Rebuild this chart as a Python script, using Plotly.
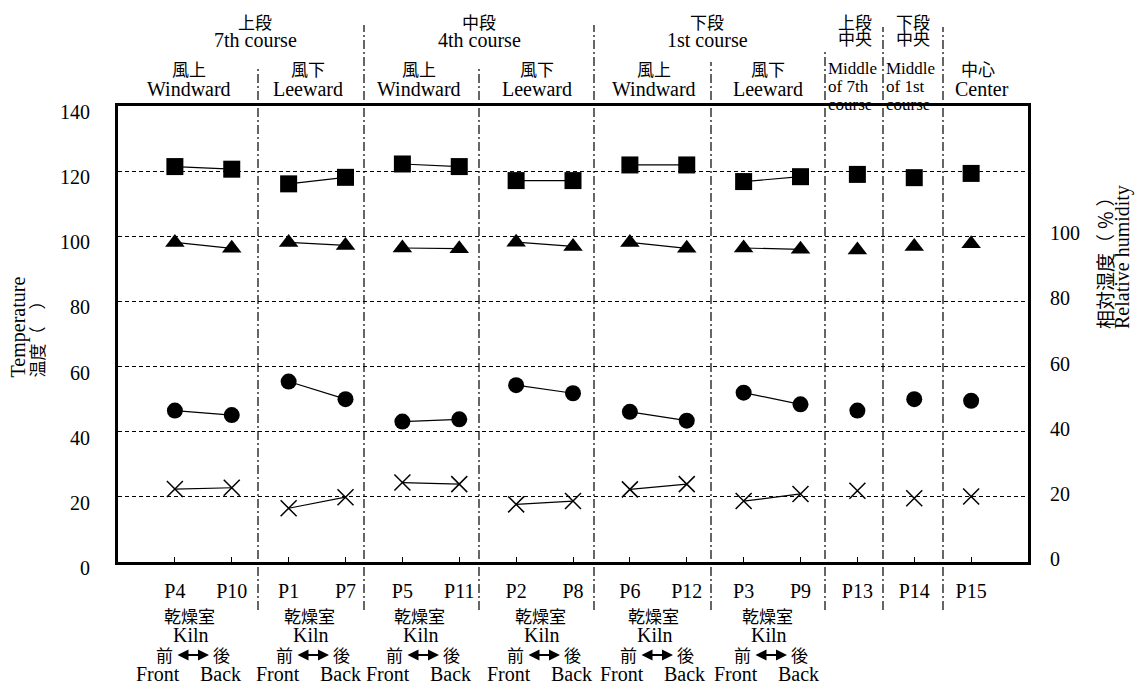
import plotly.graph_objects as go

# ---------------- data ----------------
points = ['P4', 'P10', 'P1', 'P7', 'P5', 'P11', 'P2', 'P8', 'P6', 'P12', 'P3', 'P9', 'P13', 'P14', 'P15']
group_of_point = [0, 0, 1, 1, 2, 2, 3, 3, 4, 4, 5, 5, 6, 7, 8]
temp_square = [121.4, 120.6, 116.1, 118.1, 122.2, 121.4, 117.1, 117.1, 121.9, 121.9, 116.8, 118.3, 119.0, 118.0, 119.3]
rh_triangle = [98.1, 96.3, 98.1, 97.2, 96.4, 96.2, 98.2, 96.9, 98.1, 96.3, 96.4, 96.0, 95.8, 96.9, 97.7]
temp_circle = [46.5, 45.1, 55.4, 50.0, 43.1, 43.8, 54.3, 51.8, 46.1, 43.4, 52.0, 48.4, 46.5, 50.0, 49.5]
rh_cross = [22.4, 22.8, 16.5, 19.9, 24.4, 23.9, 17.7, 18.7, 22.3, 23.9, 18.7, 20.9, 21.9, 19.6, 20.1]

left_ticks = [0, 20, 40, 60, 80, 100, 120, 140]
right_ticks = [0, 20, 40, 60, 80, 100]

course_titles = [('上段', '7th course'), ('中段', '4th course'), ('下段', '1st course')]
side_titles = [('風上', 'Windward'), ('風下', 'Leeward'), ('風上', 'Windward'),
               ('風下', 'Leeward'), ('風上', 'Windward'), ('風下', 'Leeward')]
middle_titles = [('上段', '中央', ['Middle', 'of 7th', 'course']),
                 ('下段', '中央', ['Middle', 'of 1st', 'course'])]
center_title = ('中心', 'Center')
kiln_lines = ('乾燥室', 'Kiln', '前', '後', 'Front', 'Back')
y_title_left = ('Temperature', '温度（\u3000）')
y_title_right = ('相対湿度（ ％ ）', 'Relative humidity')

# ---------------- geometry (pixels of the reference picture) ----------------
OFF = 8                      # page body margin
W, H = 1145 - OFF, 686 - OFF
PL, PR, PT, PB = 118, 1028, 106, 562   # plot box in reference pixels
ML, MT = PL - OFF, PT - OFF
MR, MB = 1145 - PR, 686 - PB
PW, PH = PR - PL, PB - PT
XMIN, XMAX = -1, 15

def px2x(px):
    return (px - PL) / PW * (XMAX - XMIN) + XMIN

def py2p(py):
    return (PB - py) / PH

def px2p(px):
    return (px - PL) / PW

EN = '"Liberation Serif", "Times New Roman", Times, "DejaVu Serif", serif'
CJ = '"Noto Sans CJK JP", "Noto Sans CJK SC", sans-serif'
INK = 'black'

def seg(vals):
    xs, ys = [], []
    for i, v in enumerate(vals):
        if i > 0 and group_of_point[i] != group_of_point[i - 1]:
            xs.append(None); ys.append(None)
        xs.append(i); ys.append(v)
    return xs, ys

fig = go.Figure()

def add_series(vals, symbol, size, yaxis='y', open_=False):
    xs, ys = seg(vals)
    marker = dict(symbol=symbol, size=size, color=INK)
    if open_:
        marker['line'] = dict(color=INK, width=1.5)
    fig.add_trace(go.Scatter(x=xs, y=ys, mode='lines+markers', yaxis=yaxis,
                             line=dict(color=INK, width=1.2), marker=marker,
                             connectgaps=False, showlegend=False, hoverinfo='skip'))

add_series(temp_square, 'square', 17)
add_series(temp_circle, 'circle', 16)
add_series(rh_triangle, 'triangle-up', 17, yaxis='y2')
add_series(rh_cross, 'x-thin-open', 16, yaxis='y2', open_=True)

# ---------------- separators ----------------
sep_px = [258, 364, 479, 594, 711, 825, 883, 943]
sep_top = [67, 25, 67, 25, 62, 50, 27, 27]
sep_bottom = 610
shapes = []
for sx, st in zip(sep_px, sep_top):
    xv = px2x(sx)
    shapes.append(dict(type='line', xref='x', yref='paper', x0=xv, x1=xv,
                       y0=py2p(sep_bottom), y1=py2p(st),
                       line=dict(color=INK, width=1.2, dash='9px,3px,2px,3px'), layer='above'))

# ---------------- annotations ----------------
anns = []

def txt(text, xv, py, size, family, xanchor='center', xref='x', angle=0, yanchor='middle'):
    anns.append(dict(text=text, x=xv, y=py2p(py), xref=xref, yref='paper', showarrow=False,
                     xanchor=xanchor, yanchor=yanchor, textangle=angle,
                     font=dict(family=family, size=size, color=INK)))

course_px = [255, 479, 707]
for (cj, en), cx in zip(course_titles, course_px):
    txt(cj, px2x(cx), 21, 17, CJ)
    txt(en, px2x(cx), 40, 20, EN)

side_px = [189, 308, 419, 537, 654, 768]
for (cj, en), cx in zip(side_titles, side_px):
    txt(cj, px2x(cx), 69, 17, CJ)
    txt(en, px2x(cx), 89, 20, EN)

mid_cx = [855, 913]
mid_left = [826, 884]
for (a, b, lines), cx, lx in zip(middle_titles, mid_cx, mid_left):
    txt(a, px2x(cx), 21, 17, CJ)
    txt(b, px2x(cx), 38, 17, CJ)
    for ln, py in zip(lines, [68, 86, 105]):
        txt(ln, px2x(lx), py, 17, EN, xanchor='left')

txt(center_title[0], px2x(978), 69, 17, CJ)
txt(center_title[1], px2x(982), 89, 20, EN)

group_px = [189, 309, 419, 540, 653, 767]
for c in group_px:
    txt(kiln_lines[0], px2x(c), 615, 17, CJ)
    txt(kiln_lines[1], px2x(c + 2), 635, 20, EN)
    txt(kiln_lines[2], px2x(c - 25), 654, 17, CJ)
    txt(kiln_lines[3], px2x(c + 32), 654, 17, CJ)
    txt(kiln_lines[4], px2x(c - 31), 674, 20, EN)
    txt(kiln_lines[5], px2x(c + 31), 674, 20, EN)
    anns.append(dict(text='', x=px2x(c + 20), y=py2p(655), xref='x', yref='paper',
                     ax=-33, ay=0, axref='pixel', ayref='pixel', showarrow=True,
                     arrowside='end+start', arrowhead=2, arrowsize=1.0, arrowwidth=2.2,
                     arrowcolor=INK, standoff=0, startstandoff=0))

# axis titles
txt(y_title_left[0], px2p(18), 380, 20, EN, xref='paper', angle=-90, yanchor='bottom')
txt(y_title_left[1], px2p(36), 380, 17, CJ, xref='paper', angle=-90, yanchor='bottom')
txt(y_title_right[0], px2p(1104), 331, 19, CJ, xref='paper', angle=-90, yanchor='bottom')
txt(y_title_right[1], px2p(1122), 331, 20, EN, xref='paper', angle=-90, yanchor='bottom')

fig.update_layout(
    width=W, height=H, autosize=False,
    margin=dict(l=ML, r=MR, t=MT, b=MB, pad=0),
    paper_bgcolor='white', plot_bgcolor='white',
    font=dict(family=EN, size=20, color=INK),
    shapes=shapes, annotations=anns,
    xaxis=dict(range=[XMIN, XMAX], tickmode='array', tickvals=list(range(len(points))),
               ticktext=points, ticks='inside', ticklen=5, tickwidth=1, tickcolor=INK,
               showline=True, linewidth=3, linecolor=INK, mirror=True,
               showgrid=False, zeroline=False, ticklabelstandoff=9,
               tickfont=dict(family=EN, size=20, color=INK)),
    yaxis=dict(range=[0, 140], tickmode='array', tickvals=left_ticks,
               showline=True, linewidth=3, linecolor=INK, mirror=True,
               showgrid=True, gridcolor=INK, gridwidth=1.3, griddash='4px,3px',
               zeroline=False, ticks='', ticklabelstandoff=21, ticklabelshift=6,
               tickfont=dict(family=EN, size=20, color=INK)),
    yaxis2=dict(range=[0, 140], overlaying='y', side='right', tickmode='array',
                tickvals=right_ticks, showline=False, showgrid=False, zeroline=False,
                ticks='', ticklabelstandoff=21, ticklabelshift=-3,
                tickfont=dict(family=EN, size=20, color=INK)),
)

fig.write_html('out.html')
